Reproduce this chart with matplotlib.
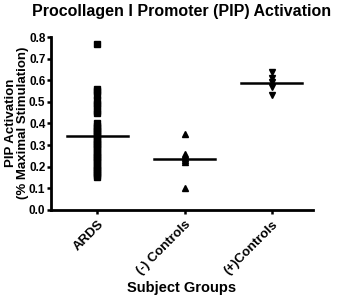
import matplotlib
matplotlib.use("Agg")
import matplotlib.pyplot as plt
import numpy as np

plt.rcParams['font.family'] = ['Liberation Sans', 'DejaVu Sans']
plt.rcParams['font.weight'] = 'bold'

categories = ["ARDS", "(-) Controls", "(+)Controls"]
ards = [0.77, 0.56, 0.55, 0.53, 0.51, 0.49, 0.48, 0.46, 0.45,
        0.40, 0.39, 0.38, 0.37, 0.36, 0.35, 0.34, 0.33, 0.32, 0.31, 0.30,
        0.29, 0.28, 0.27, 0.26, 0.25, 0.24, 0.23, 0.22, 0.21, 0.20, 0.19,
        0.18, 0.17, 0.16, 0.15]
neg_controls = [0.35, 0.26, 0.25, 0.24, 0.23, 0.22, 0.10]
pos_controls = [0.64, 0.61, 0.59, 0.57, 0.53]
yticks = [0.0, 0.1, 0.2, 0.3, 0.4, 0.5, 0.6, 0.7, 0.8]

groups = [ards, neg_controls, pos_controls]
markers = ['s', '^', 'v']
sizes = [5, 5, 5]

fig = plt.figure(figsize=(3.4, 2.99), dpi=100)
ax = fig.add_axes([0.150, 0.298, 0.770, 0.578])

for i, (vals, m, s) in enumerate(zip(groups, markers, sizes)):
    x = np.full(len(vals), i + 1.0)
    ax.plot(x, vals, linestyle='none', marker=m, markersize=s, color='black')
    mean = np.mean(vals)
    ax.plot([i + 1 - 0.35, i + 1 + 0.35], [mean, mean], color='black', lw=1.8)

ax.set_xlim(0.47, 3.47)
ax.set_ylim(0, 0.8)
ax.set_xticks([1, 2, 3])
ax.set_xticklabels(categories, rotation=45, ha='right', rotation_mode='anchor',
                   fontsize=9.5, fontweight='bold')
ax.set_yticks(yticks)
ax.set_yticklabels([f"{v:.1f}" for v in yticks], fontsize=8.5, fontweight='bold')
for s in ['top', 'right']:
    ax.spines[s].set_visible(False)
for s in ['left', 'bottom']:
    ax.spines[s].set_linewidth(2)
ax.tick_params(axis='both', direction='out', length=3, width=1.8, pad=1)
ax.tick_params(axis='x', pad=3)

fig.text(0.05, 0.59, "PIP Activation\n(% Maximal Stimulation)", rotation=90,
         ha='center', va='center', fontsize=9.5, fontweight='bold',
         linespacing=1.0, multialignment='center')
ax.set_xlabel("Subject Groups", fontsize=10.5, fontweight='bold', labelpad=3)
fig.text(0.535, 0.962, "Procollagen I Promoter (PIP) Activation", ha='center', va='center',
         fontsize=11.5, fontweight='bold')

fig.savefig("out.png", dpi=100)
